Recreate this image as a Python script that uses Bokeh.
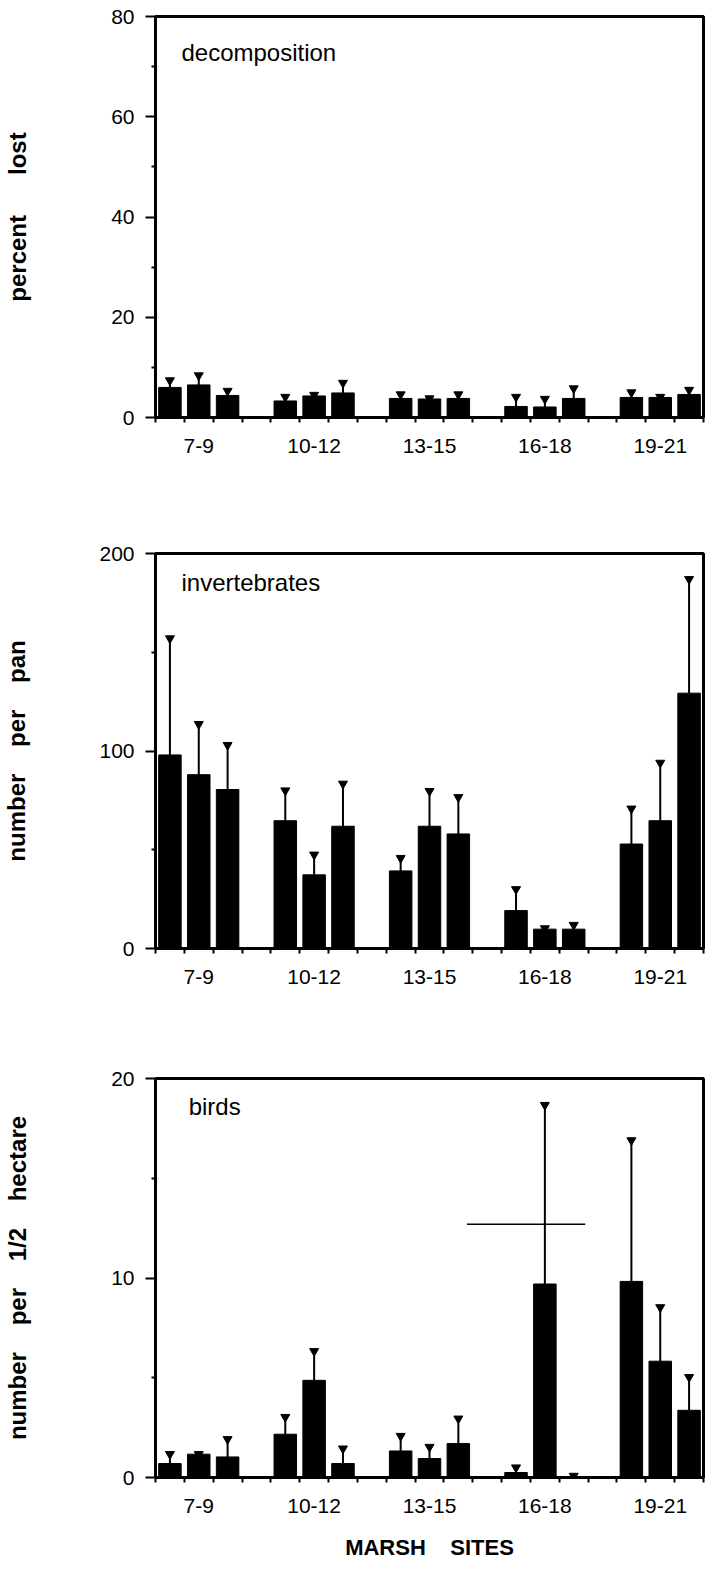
from bokeh.plotting import figure
from bokeh.models import Range1d, FixedTicker, Label
from bokeh.layouts import column
from bokeh.embed import file_html
from bokeh.resources import INLINE

# ---------------- data ----------------
groups = ["7-9", "10-12", "13-15", "16-18", "19-21"]

decomp_mean = [6.0, 6.5, 4.4, 3.3, 4.3, 4.9, 3.8, 3.7, 3.8, 2.2, 2.1, 3.8, 4.0, 4.0, 4.6]
decomp_upper = [7.4, 8.4, 5.3, 4.1, 4.5, 6.9, 4.6, 3.8, 4.6, 4.1, 3.7, 5.8, 5.0, 4.1, 5.5]

invert_mean = [98, 88, 80.5, 64.7, 37.3, 61.9, 39.3, 61.9, 58, 19.2, 9.8, 9.8, 52.9, 64.7, 129.3]
invert_upper = [157, 113.6, 103, 80, 47.5, 83.4, 45.8, 79.7, 76.6, 30, 10.2, 11.9, 70.8, 94, 187]

birds_mean = [0.7, 1.17, 1.03, 2.17, 4.87, 0.7, 1.33, 0.95, 1.7, 0.25, 9.7, 0.05, 9.83, 5.83, 3.37]
birds_upper = [1.17, 1.17, 1.92, 3.03, 6.33, 1.45, 2.08, 1.53, 2.95, 0.5, 18.67, 0.08, 16.9, 8.53, 5.03]

birds_mark_x = [10.8, 14.9]
birds_mark_y = [12.7, 12.7]

decomp_ticks = [0, 20, 40, 60, 80]
invert_ticks = [0, 100, 200]
birds_ticks = [0, 10, 20]

# slot layout: 3 bars per group, one empty slot between groups
n_slots = len(groups) * 4 - 1
bar_x = [g * 4 + k + 0.5 for g in range(len(groups)) for k in range(3)]
group_centers = [g * 4 + 1.5 for g in range(len(groups))]

FONT = "Liberation Sans"
NB = "\u00a0"


def panel(mean, upper, ticks, ylabel, title, h, top, bottom, label_standoff,
          title_y, title_x, xlabel=None):
    p = figure(width=706, height=h, output_backend="svg", toolbar_location=None,
               min_border_left=155, min_border_right=3,
               min_border_top=top, min_border_bottom=bottom,
               x_range=Range1d(0, n_slots), y_range=Range1d(0, ticks[-1]))
    p.xgrid.visible = False
    p.ygrid.visible = False
    p.outline_line_color = "black"
    p.outline_line_width = 3
    p.background_fill_color = "white"
    p.border_fill_color = "white"

    p.vbar(x=bar_x, top=mean, bottom=0, width=0.78, fill_color="black",
           line_color="black")
    p.segment(x0=bar_x, y0=mean, x1=bar_x, y1=upper, line_color="black",
              line_width=2)
    p.scatter(x=bar_x, y=upper, marker="inverted_triangle", size=9,
              fill_color="black", line_color="black")

    minor_y = [(ticks[i] + ticks[i + 1]) / 2 for i in range(len(ticks) - 1)]
    ya = p.yaxis[0]
    ya.ticker = FixedTicker(ticks=ticks, minor_ticks=minor_y)
    ya.axis_line_width = 2
    ya.major_tick_out = 10
    ya.major_tick_in = 0
    ya.major_tick_line_width = 2
    ya.minor_tick_out = 4
    ya.minor_tick_in = 0
    ya.minor_tick_line_width = 2
    ya.major_label_text_font = FONT
    ya.major_label_text_font_size = "21px"
    ya.major_label_text_color = "black"
    ya.major_label_standoff = 11
    ya.axis_label = ylabel
    ya.axis_label_text_font = FONT
    ya.axis_label_text_font_style = "bold"
    ya.axis_label_text_font_size = "24px"
    ya.axis_label_text_color = "black"
    ya.axis_label_standoff = label_standoff

    xa = p.xaxis[0]
    xa.ticker = FixedTicker(ticks=group_centers, minor_ticks=list(range(n_slots + 1)))
    xa.major_label_overrides = {c: g for c, g in zip(group_centers, groups)}
    xa.axis_line_width = 3
    xa.major_tick_out = 0
    xa.major_tick_in = 0
    xa.minor_tick_out = 5
    xa.minor_tick_in = 0
    xa.minor_tick_line_width = 2
    xa.major_label_text_font = FONT
    xa.major_label_text_font_size = "21px"
    xa.major_label_text_color = "black"
    xa.major_label_standoff = 16
    if xlabel:
        xa.axis_label = xlabel
        xa.axis_label_text_font = FONT
        xa.axis_label_text_font_style = "bold"
        xa.axis_label_text_font_size = "22px"
        xa.axis_label_text_color = "black"
        xa.axis_label_standoff = 19

    p.add_layout(Label(x=title_x, y=title_y, text=title, text_font=FONT,
                       text_font_size="24px", text_baseline="middle",
                       text_color="black"))
    return p


p1 = panel(decomp_mean, decomp_upper, decomp_ticks,
           "percent" + NB * 6 + "lost", "decomposition",
           h=470, top=16, bottom=53, label_standoff=77, title_y=72.8, title_x=0.9)
p2 = panel(invert_mean, invert_upper, invert_ticks,
           "number" + NB * 4 + "per" + NB * 4 + "pan", "invertebrates",
           h=530, top=83, bottom=52, label_standoff=66, title_y=185.5, title_x=0.9)
p3 = panel(birds_mean, birds_upper, birds_ticks,
           "number" + NB * 4 + "per" + NB * 4 + "1/2" + NB * 4 + "hectare", "birds",
           h=569, top=78, bottom=92, label_standoff=77, title_y=18.6, title_x=1.15,
           xlabel="MARSH" + NB * 4 + "SITES")
p3.line(x=birds_mark_x, y=birds_mark_y, line_color="black", line_width=1.5)

layout = column(p1, p2, p3, spacing=0)
open("out.html", "w").write(file_html(layout, INLINE))
